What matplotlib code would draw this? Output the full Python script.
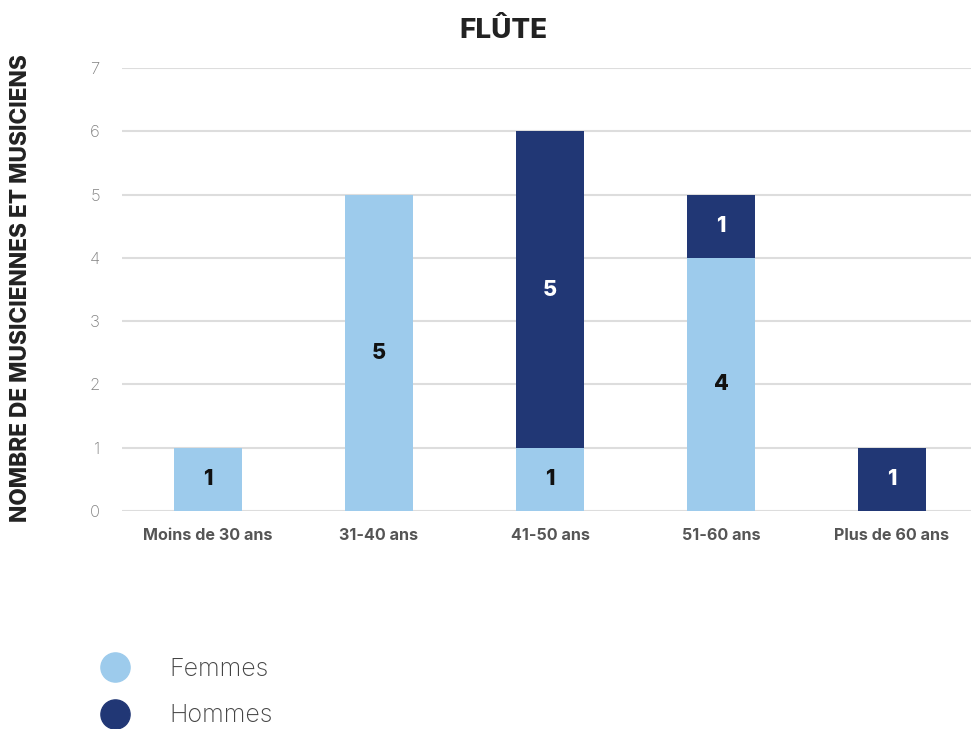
import matplotlib
matplotlib.use("Agg")
import matplotlib.pyplot as plt
from matplotlib.lines import Line2D
import numpy as np

categories = ["Moins de 30 ans", "31-40 ans", "41-50 ans", "51-60 ans", "Plus de 60 ans"]
femmes = [1, 5, 1, 4, 0]
hommes = [0, 0, 5, 1, 1]
yticks = [0, 1, 2, 3, 4, 5, 6, 7]

c_f = "#9dcbec"
c_h = "#213775"
FONT = "Inter"

fig = plt.figure(figsize=(9.71, 7.29), dpi=100)
ax = fig.add_axes([122/971, 1-511/729, (971-122)/971, (511-68)/729])

x = np.arange(len(categories))
w = 0.4
ax.bar(x, femmes, w, color=c_f, zorder=3)
ax.bar(x, hommes, w, bottom=femmes, color=c_h, zorder=3)

for i in range(len(categories)):
    if femmes[i] > 0:
        ax.text(x[i], femmes[i]/2, str(femmes[i]), ha="center", va="center",
                fontsize=15.5, fontweight="heavy", color="#111111", family=FONT, zorder=4)
    if hommes[i] > 0:
        ax.text(x[i], femmes[i] + hommes[i]/2, str(hommes[i]), ha="center", va="center",
                fontsize=15.5, fontweight="heavy", color="white", family=FONT, zorder=4)

ax.set_xlim(-0.503, 4.462)
ax.set_ylim(0, 7)
ax.set_yticks(yticks)
ax.set_yticklabels([str(v) for v in yticks], fontsize=12, color="#808080", family=FONT, fontweight="light")
ax.set_xticks(x)
ax.set_xticklabels(categories, fontsize=11.6, fontweight="bold", color="#555555", family=FONT)
ax.tick_params(axis="both", length=0)
ax.tick_params(axis="y", pad=16)
ax.tick_params(axis="x", pad=12)
ax.grid(axis="y", color="#dddddd", linewidth=1.5, zorder=0)
for s in ax.spines.values():
    s.set_visible(False)

fig.text(503/971, 1-31/729, "FLÛTE", ha="center", va="center", fontsize=20,
         fontweight="heavy", color="#222222", family=FONT)
fig.text(21/971, 1-288/729, "NOMBRE DE MUSICIENNES ET MUSICIENS", rotation=90,
         ha="center", va="center", fontsize=16.3, fontweight="heavy", color="#222222", family=FONT)

handles = [Line2D([], [], marker="o", linestyle="none", markersize=21, color=c_f),
           Line2D([], [], marker="o", linestyle="none", markersize=21, color=c_h)]
leg = fig.legend(handles, ["Femmes", "Hommes"], loc="upper left",
                 bbox_to_anchor=(84/971, 1-645/729), frameon=False,
                 prop={"family": FONT, "size": 18, "weight": "light"},
                 handletextpad=1.4, labelspacing=0.95, borderpad=0, handlelength=1.5)
for t in leg.get_texts():
    t.set_color("#444444")

fig.savefig("out.png", dpi=100)
